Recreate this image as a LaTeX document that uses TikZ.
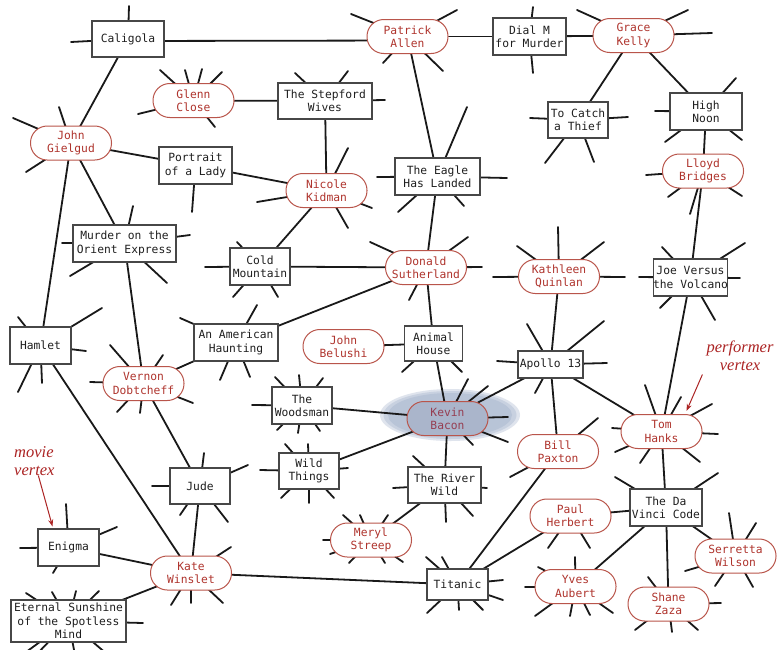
\documentclass[tikz,border=0pt]{standalone}
\usepackage{fontspec}
\usetikzlibrary{arrows.meta}
\newfontfamily\mfont{DejaVu Sans Mono}
\newfontfamily\lblfont{Liberation Serif}
\definecolor{actred}{RGB}{175,52,45}
\definecolor{actline}{RGB}{185,85,75}
\definecolor{halocol}{RGB}{150,166,196}
\definecolor{kevfill}{RGB}{170,181,203}
\definecolor{kevtext}{RGB}{150,62,82}
\definecolor{lblred}{RGB}{172,36,36}
\pgfdeclarelayer{halo}
\pgfdeclarelayer{edges}
\pgfsetlayers{halo,edges,main}
\tikzset{
  basenode/.style={fill=white, align=center, inner sep=0pt, font=\mfont\fontsize{11.3}{13.3}\selectfont},
  movie/.style={basenode, rectangle, draw=black!72, line width=1.1pt, text=black!88},
  actor/.style={basenode, rectangle, rounded corners=16.8pt, draw=actline, line width=1pt, text=actred, minimum width=81pt, minimum height=34pt},
  sz/.style 2 args={minimum width=#1pt, minimum height=#2pt},
  edge/.style={line width=1.8pt, black!90, line cap=round},
  lbl/.style={font=\lblfont\itshape\fontsize{16.5}{17.5}\selectfont, text=lblred, inner sep=0pt},
  lblarrow/.style={lblred, line width=1pt, -{Stealth[length=7pt,width=5pt]}},
}
\newcommand\stubset[2]{\foreach \sx/\sy in {#2} {\draw[edge] (#1.center) -- (\sx,\sy);}}
\begin{document}
\begin{tikzpicture}[x=1pt,y=-1pt]
\useasboundingbox (0,0) rectangle (778,649);
% movies
\node[movie, sz={72}{36}] (cal) at (128,39) {Caligola};
\node[movie, sz={73}{37}] (dial) at (529.5,36.5) {Dial M\\for Murder};
\node[movie, sz={94}{36}] (stepford) at (325,101) {The Stepford\\Wives};
\node[movie, sz={73}{37}] (port) at (195.5,165.5) {Portrait\\of a Lady};
\node[movie, sz={60}{36}] (thief) at (578,120) {To Catch\\a Thief};
\node[movie, sz={72}{37}] (noon) at (706,111.5) {High\\Noon};
\node[movie, sz={85}{37}] (eagle) at (437.5,176.5) {The Eagle\\Has Landed};
\node[movie, sz={103}{37}] (orient) at (124.5,243.5) {Murder on the\\Orient Express};
\node[movie, sz={60}{37}] (cold) at (260,266.5) {Cold\\Mountain};
\node[movie, sz={84}{37}] (haunt) at (236,342.5) {An American\\Haunting};
\node[movie, sz={58}{35}] (animal) at (433.5,343.5) {Animal\\House};
\node[movie, sz={65}{27}] (apollo) at (550.5,364.5) {Apollo 13};
\node[movie, sz={73}{37}] (joe) at (690.5,277.5) {Joe Versus\\the Volcano};
\node[movie, sz={61}{37}] (hamlet) at (40.5,345.5) {Hamlet};
\node[movie, sz={60}{37}] (woods) at (302,405.5) {The\\Woodsman};
\node[movie, sz={60}{36}] (wild) at (309,471) {Wild\\Things};
\node[movie, sz={60}{36}] (jude) at (200,486) {Jude};
\node[movie, sz={73}{36}] (river) at (444.5,485) {The River\\Wild};
\node[movie, sz={72}{37}] (davinci) at (666,507.5) {The Da\\Vinci Code};
\node[movie, sz={61}{37}] (enigma) at (68.5,547.5) {Enigma};
\node[movie, sz={61}{31}] (titanic) at (457.5,584.5) {Titanic};
\node[movie, sz={115}{42}] (eternal) at (68.5,621) {Eternal Sunshine\\of the Spotless\\Mind};
% performers
\node[actor] (patrick) at (407.5,36.5) {Patrick\\Allen};
\node[actor] (grace) at (633.5,35.5) {Grace\\Kelly};
\node[actor] (glenn) at (193.5,100.5) {Glenn\\Close};
\node[actor] (gielgud) at (71,143) {John\\Gielgud};
\node[actor] (kidman) at (326.5,190.5) {Nicole\\Kidman};
\node[actor] (lloyd) at (703,171) {Lloyd\\Bridges};
\node[actor] (donald) at (426,267.5) {Donald\\Sutherland};
\node[actor] (kathleen) at (559,276.5) {Kathleen\\Quinlan};
\node[actor] (belushi) at (343.5,346.5) {John\\Belushi};
\node[actor] (vernon) at (143.5,383.5) {Vernon\\Dobtcheff};
\node[actor, fill=kevfill, text=kevtext] (kevin) at (447.5,418.5) {Kevin\\Bacon};
\node[actor] (tom) at (661.5,431.5) {Tom\\Hanks};
\node[actor] (bill) at (558,451.5) {Bill\\Paxton};
\node[actor] (paul) at (570.5,516) {Paul\\Herbert};
\node[actor] (serretta) at (735.5,556) {Serretta\\Wilson};
\node[actor] (yves) at (575.5,586.5) {Yves\\Aubert};
\node[actor] (shane) at (668.5,604) {Shane\\Zaza};
\node[actor] (meryl) at (371,540) {Meryl\\Streep};
\node[actor] (kate) at (191,573) {Kate\\Winslet};
% labels
\node[lbl, anchor=west, align=left] (movlbl) at (14,461) {movie\\vertex};
\node[lbl, align=center] (perflbl) at (740,356) {performer\\vertex};
\draw[lblarrow] ([xshift=4pt]movlbl.south) -- ([xshift=-16pt,yshift=2pt]enigma.north);
\draw[lblarrow, shorten <=4pt] ([xshift=-36pt]perflbl.south) -- ([xshift=25pt,yshift=3pt]tom.north);
% halo
\begin{pgfonlayer}{halo}
\fill[white] (0,0) rectangle (778,649);
\fill[halocol, opacity=.3] ([shift={(2.5,-3.5)}]kevin.center) ellipse [x radius=70pt, y radius=26pt];
\fill[halocol, opacity=.3] ([shift={(2.5,-3.5)}]kevin.center) ellipse [x radius=66.5pt, y radius=24pt];
\fill[halocol, opacity=.3] ([shift={(2.5,-3.5)}]kevin.center) ellipse [x radius=62pt, y radius=22pt];
\end{pgfonlayer}
% edges
\begin{pgfonlayer}{edges}
\draw[edge] ([yshift=-2pt]cal.center) -- ([yshift=-4pt]patrick.center);
\foreach \a/\b in {cal/gielgud, patrick/dial, patrick/eagle, dial/grace, grace/thief, grace/noon,
  noon/lloyd, lloyd/joe, joe/tom, glenn/stepford, stepford/kidman, gielgud/port, port/kidman,
  gielgud/orient, gielgud/hamlet, kidman/cold, cold/donald, eagle/donald, donald/haunt,
  donald/animal, haunt/vernon, orient/vernon, vernon/jude, hamlet/kate, jude/kate, enigma/kate,
  kate/eternal, kate/titanic, belushi/animal, animal/kevin, woods/kevin, wild/kevin, kevin/river,
  kevin/apollo, river/meryl, kathleen/apollo, apollo/tom, apollo/bill, bill/titanic, titanic/paul,
  paul/davinci, tom/davinci, davinci/yves, davinci/shane, davinci/serretta}
  {\draw[edge] (\a.center) -- (\b.center);}
% stubs
\stubset{cal}{129/6, 71/42}
\stubset{dial}{533/7, 533/73}
\stubset{patrick}{351/14, 457/10, 383/63, 443/71}
\stubset{grace}{577/10, 688/10, 712/33}
\stubset{glenn}{160/70, 185/70, 202/69, 222/72, 138/114, 215/127}
\stubset{gielgud}{13/118, 59/107, 26/172}
\stubset{port}{192/212}
\stubset{orient}{133/206, 62/243, 190/235, 70/276, 167/283}
\stubset{stepford}{295/73, 348/71, 385/100}
\stubset{kidman}{348/148, 372/208, 257/202, 348/228}
\stubset{eagle}{467/107, 377/177, 507/178, 398/212, 464/206}
\stubset{thief}{530/118, 628/117, 545/163, 594/162}
\stubset{noon}{736/78, 655/111, 665/142, 742/140}
\stubset{lloyd}{646/175, 668/197, 742/196, 690/214}
\stubset{cold}{205/267, 237/242, 233/297, 278/297}
\stubset{hamlet}{18/317, 102/308, 86/351, 18/392, 42/383}
\stubset{haunt}{180/318, 220/380, 250/377, 257/305}
\stubset{vernon}{90/382, 110/345, 163/355, 193/403, 117/412, 140/413}
\stubset{donald}{370/242, 468/237, 482/267, 409/300}
\stubset{kathleen}{493/277, 558/227, 604/242, 517/246, 625/277}
\stubset{animal}{402/372, 462/372}
\stubset{woods}{275/377, 299/375, 323/378, 252/405, 277/430, 298/433, 320/431}
\stubset{kevin}{468/379, 488/386, 508/417, 473/445, 508/442}
\stubset{wild}{285/444, 308/444, 260/470, 348/468, 281/498, 309/503, 334/498}
\stubset{river}{413/456, 393/488, 487/488, 446/522, 473/516}
\stubset{meryl}{343/515, 360/515, 388/515, 323/540, 330/554, 349/563, 385/563, 403/562}
\stubset{titanic}{426/557, 442/557, 503/580, 503/600, 427/613, 459/610, 483/610}
\stubset{apollo}{527/324, 604/321, 607/363, 535/393, 497/361}
\stubset{joe}{662/247, 745/243, 639/277, 740/278, 660/308, 715/320}
\stubset{tom}{645/385, 681/397, 712/404, 612/428, 718/434, 615/452, 640/463, 700/462}
\stubset{bill}{598/418, 510/477}
\stubset{paul}{548/548, 590/548}
\stubset{davinci}{615/477, 718/473}
\stubset{serretta}{729/513, 756/523, 685/571, 715/586, 753/587}
\stubset{yves}{538/567, 575/557, 525/587, 535/616, 570/616, 590/615, 613/613}
\stubset{shane}{648/577, 721/603, 635/630, 672/632, 698/630}
\stubset{jude}{204/453, 248/465, 152/486, 180/515, 228/522}
\stubset{enigma}{66/504, 117/527, 20/548, 53/573}
\stubset{kate}{231/547, 171/605, 191/603, 223/603}
\stubset{eternal}{26/593, 52/592, 76/591, 99/591, 143/623, 22/655, 36/655, 75/655, 108/655}
\end{pgfonlayer}
\end{tikzpicture}
\end{document}
